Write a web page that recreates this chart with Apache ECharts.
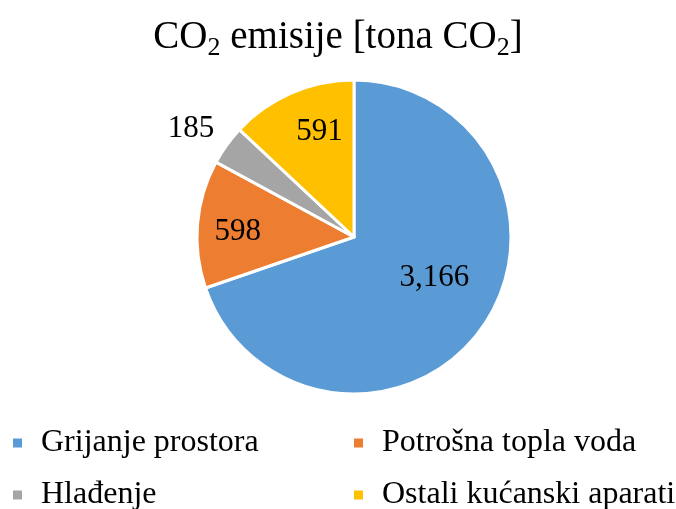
<!DOCTYPE html>
<html><head><meta charset="utf-8">
<script src="https://cdn.jsdelivr.net/npm/echarts@6/dist/echarts.min.js"></script>
<style>html,body{margin:0;padding:0;background:#fff}#c{width:676px;height:509px}</style>
</head><body><div id="c"></div>
<script>
const categories = ['Grijanje prostora','Potrošna topla voda','Hlađenje','Ostali kućanski aparati'];
const values = [3166, 598, 185, 591];
const colors = ['#5B9BD5','#ED7D31','#A5A5A5','#FFC000'];
// label placement style per slice
const labelPos = ['inside','inside','outside','inside'];
const labelShift = [[14,-6],[-35,2],[10,-8],[-2,-30]];

const font = '"Liberation Serif", "Times New Roman", serif';
const chart = echarts.init(document.getElementById('c'));
const data = categories.map((n,i)=>({
  name:n, value:values[i], itemStyle:{color:colors[i]},
  label: {position:labelPos[i], offset:labelShift[i]},
  labelLine: {show:false, length:14, length2:6}
}));
const legendText = {fontFamily:font,fontSize:32,color:'#000',lineHeight:31,padding:[0,0,0,13]};
chart.setOption({
  animation:false,
  title:{
    text:'CO{s|2} emisije [tona CO{s|2}]',
    left:'center', top:10,
    textStyle:{fontFamily:font,fontSize:39,fontWeight:'normal',color:'#000',
      rich:{s:{fontFamily:font,fontSize:26,verticalAlign:'bottom',padding:[20,0,0,0],color:'#000'}}}
  },
  legend:[{
    data:[categories[0],categories[2]], orient:'vertical', left:11, top:427, padding:0, height:90,
    icon:'rect', itemWidth:11, itemHeight:11, itemGap:20, textStyle:legendText
  },{
    data:[categories[1],categories[3]], orient:'vertical', left:352, top:427, padding:0, height:90,
    icon:'rect', itemWidth:11, itemHeight:11, itemGap:20, textStyle:legendText
  }],
  series:[{
    type:'pie', center:[354,237], radius:157, startAngle:90, clockwise:true,
    itemStyle:{borderColor:'#fff',borderWidth:3},
    label:{show:true,formatter:p=>p.value.toLocaleString('en-US'),fontFamily:font,fontSize:31,color:'#000'},
    labelLine:{show:false},
    emphasis:{disabled:true},
    data:data
  }]
});
</script></body></html>
